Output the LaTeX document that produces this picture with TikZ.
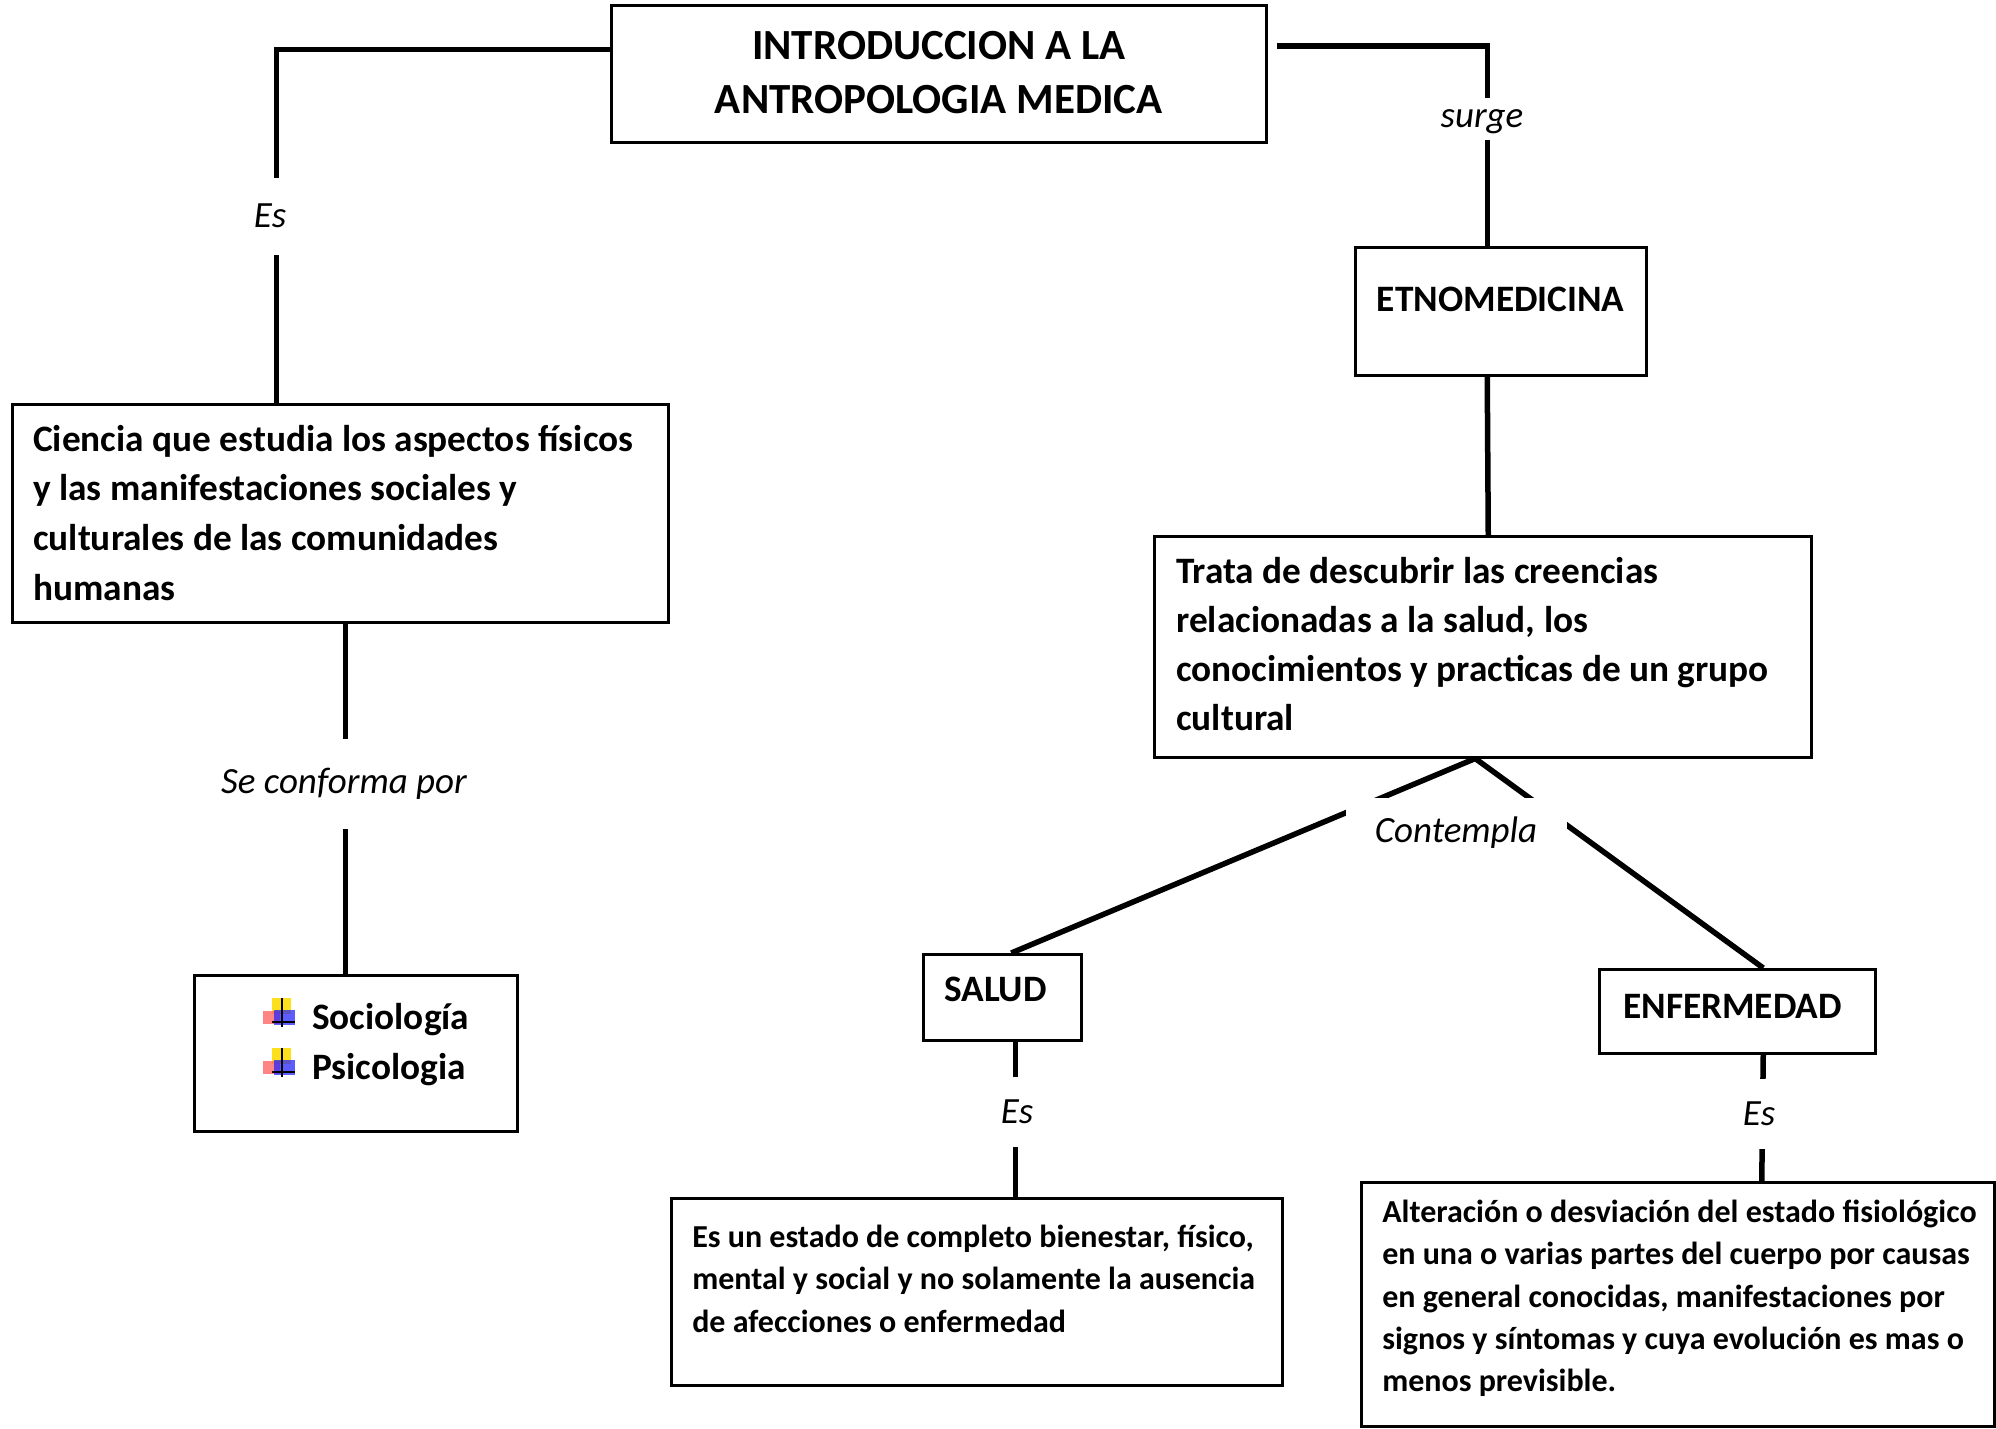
\documentclass[tikz,border=0pt]{standalone}
\usepackage{fontspec}
\setmainfont{Carlito}
\newcommand\bxt[5]{\parbox[c][#2pt][t]{#1pt}{\vspace*{#3pt}#4\strut #5\par}}
\newcommand\bicon[1]{%
  \begin{scope}[shift={(0,#1)}]
    \fill[yellow!80!orange, opacity=.9] (272,-30) rectangle (291,-14);
    \fill[red!60, opacity=.8] (263,-17) rectangle (280,-4);
    \fill[blue!85, opacity=.75] (274,-18) rectangle (295,-3);
    \draw[line width=2.2pt] (282,-30) -- (282,-1) (272,-6) -- (295,-6);
  \end{scope}}
\begin{document}
\begin{tikzpicture}[x=1pt,y=-1pt,
  box/.style={draw, line width=2.5pt, inner sep=0pt, anchor=north west, font=\bfseries},
  conn/.style={line width=5.5pt},
  lbl/.style={fill=white, inner sep=0pt, font=\fontsize{37}{44}\selectfont\itshape}]
\useasboundingbox (0,0) rectangle (1996,1428);

% boxes
\node[box] (title) at (610,4) {\bxt{655}{137}{15.7}{\fontsize{43}{54.7}\selectfont\centering}{INTRODUCCION A LA\\ANTROPOLOGIA MEDICA}};
\node[box] (etno) at (1354,246) {\bxt{291}{128}{29.3}{\fontsize{37.3}{49.6}\selectfont\centering}{ETNOMEDICINA}};
\node[box] (ciencia) at (11,403) {\bxt{656}{218}{12.3}{\fontsize{37.3}{49.6}\selectfont\raggedright\leftskip=21pt}{Ciencia que estudia los aspectos físicos\\y las manifestaciones sociales y\\culturales de las comunidades\\humanas}};
\node[box] (trata) at (1153,535) {\bxt{657}{221}{12.3}{\fontsize{37.3}{49.3}\selectfont\raggedright\leftskip=22pt}{Trata de descubrir las creencias\\relacionadas a la salud, los\\conocimientos y practicas de un grupo\\cultural}};
\node[box] (bullets) at (193,974) {\bxt{323}{156}{19}{\fontsize{37.3}{50}\selectfont\raggedright\leftskip=118pt}{Sociología\\Psicologia}};
\node[box] (salud) at (922,953) {\bxt{158}{86}{12.3}{\fontsize{37.3}{49.6}\selectfont\raggedright\leftskip=21pt}{SALUD}};
\node[box] (enf) at (1598,968) {\bxt{276}{84}{14.3}{\fontsize{37.3}{49.6}\selectfont\raggedright\leftskip=24pt}{ENFERMEDAD}};
\node[box] (sdesc) at (670,1197) {\bxt{611}{187}{19.3}{\fontsize{32}{42.4}\selectfont\raggedright\leftskip=21pt}{Es un estado de completo bienestar, físico,\\mental y social y no solamente la ausencia\\de afecciones o enfermedad}};
\node[box] (edesc) at (1360,1181) {\bxt{633}{244}{10.3}{\fontsize{32}{42.4}\selectfont\raggedright\leftskip=21pt}{Alteración o desviación del estado fisiológico\\en una o varias partes del cuerpo por causas\\en general conocidas, manifestaciones por\\signos y síntomas y cuya evolución es mas o\\menos previsible.}};

\bicon{1028}
\bicon{1078}

% connectors
\draw[conn] ([yshift=24.5pt]title.west) -| ([xshift=-64pt]ciencia.north);
\draw[conn] ([xshift=9pt,yshift=28pt]title.east) -| ([xshift=-13.5pt]etno.north);
\draw[conn] ([xshift=-13.5pt]etno.south) -- ([xshift=5.5pt]trata.north);
\draw[conn] ([xshift=5pt]ciencia.south) -- ([xshift=-10.5pt]bullets.north);
\draw[conn] ([xshift=-7.5pt]trata.south) -- ([xshift=9pt]salud.north);
\draw[conn] ([xshift=-7.5pt]trata.south) -- ([xshift=26pt]enf.north);
\draw[conn] ([xshift=13pt]salud.south) -- ([xshift=38.5pt]sdesc.north);
\draw[conn] ([xshift=26pt]enf.south) -- ([xshift=84pt]edesc.north);

% connector labels
\node[lbl, minimum height=77pt] (les1) at (270,216) {Es};
\node[lbl, text height=29pt, text depth=13pt, anchor=base] (lsurge) at (1482,127) {surge};
\node[lbl, minimum height=90pt] (lconf) at (344,784) {Se conforma por};
\node[lbl, minimum height=70pt] (les2) at (1017,1112) {Es};
\node[lbl, minimum height=70pt] (les3) at (1759,1114) {Es};
\node[lbl, minimum width=221pt, minimum height=70pt] (lcont) at (1456,833) {Contempla};
\end{tikzpicture}
\end{document}
